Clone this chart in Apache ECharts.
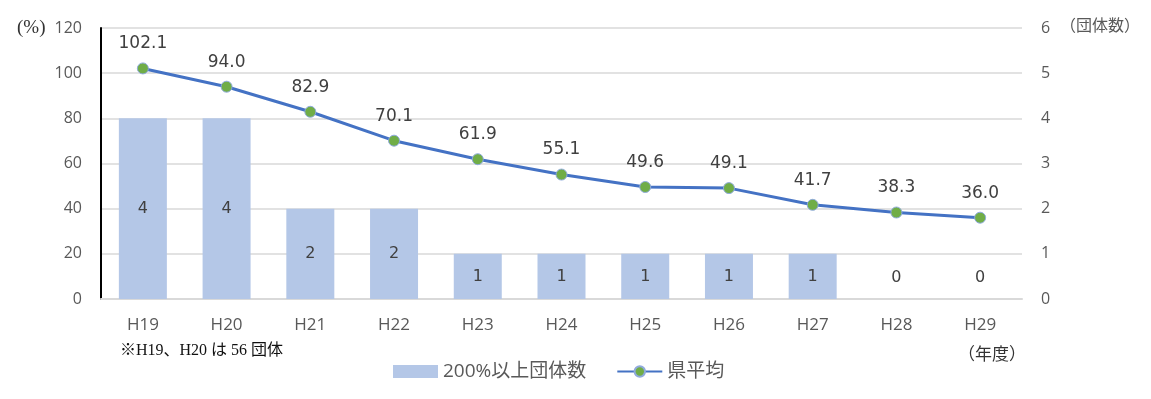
<!DOCTYPE html>
<html>
<head>
<meta charset="utf-8">
<script src="https://cdn.jsdelivr.net/npm/echarts@6/dist/echarts.min.js"></script>
<style>
  html, body { margin: 0; padding: 0; background: #fff; }
</style>
</head>
<body>
<div id="chart" style="width: 1151px; height: 399px"></div>
<script>
const categories = ["H19", "H20", "H21", "H22", "H23", "H24", "H25", "H26", "H27", "H28", "H29"];
const countOver200 = [4, 4, 2, 2, 1, 1, 1, 1, 1, 0, 0];
const prefAverage = [102.1, 94.0, 82.9, 70.1, 61.9, 55.1, 49.6, 49.1, 41.7, 38.3, 36.0];

const sans = "'Open Sans', 'Noto Sans CJK JP', sans-serif";
const labelFont = "'DejaVu Sans', sans-serif";
const serif = "'Liberation Serif', 'Noto Sans CJK JP', serif";

const chart = echarts.init(document.getElementById("chart"));

const option = {
  animation: false,
  grid: {
    left: 101,
    right: 129,
    top: 28,
    bottom: 100,
  },
  legend: {
    bottom: 13,
    left: 388,
    itemGap: 30,
    itemWidth: 45,
    itemHeight: 13,
    textStyle: {
      color: "#595959",
      fontSize: 19,
      fontFamily: sans,
    },
    data: [
      { name: "200%以上団体数", icon: "rect" },
      { name: "県平均" },
    ],
  },
  graphic: [
    {
      type: "text",
      left: 17,
      top: 19,
      style: { text: "(%)", fontSize: 19, fill: "#333", fontFamily: serif },
    },
    {
      type: "text",
      left: 1060,
      top: 18,
      style: { text: "（団体数）", fontSize: 16, fill: "#595959", fontFamily: sans },
    },
    {
      type: "text",
      left: 958,
      top: 347,
      style: { text: "（年度）", fontSize: 17, fill: "#333", fontFamily: sans },
    },
    {
      type: "text",
      left: 120,
      top: 343,
      style: { text: "※H19、H20 は 56 団体", fontSize: 16, fill: "#111", fontFamily: serif },
    },
  ],
  xAxis: {
    type: "category",
    data: categories,
    axisTick: { show: false },
    axisLine: { lineStyle: { color: "#d9d9d9", width: 2 } },
    axisLabel: {
      color: "#595959",
      fontSize: 17,
      fontFamily: sans,
      margin: 18,
    },
  },
  yAxis: [
    {
      type: "value",
      min: 0,
      max: 120,
      interval: 20,
      axisLine: { show: true, lineStyle: { color: "#000", width: 2 } },
      axisTick: { show: false },
      axisLabel: { color: "#595959", fontSize: 16, fontFamily: sans, margin: 19 },
      splitLine: { lineStyle: { color: "#d9d9d9", width: 1.5 } },
    },
    {
      type: "value",
      min: 0,
      max: 6,
      interval: 1,
      axisLine: { show: false },
      axisTick: { show: false },
      axisLabel: { color: "#595959", fontSize: 16, fontFamily: sans, margin: 19 },
      splitLine: { show: false },
    },
  ],
  series: [
    {
      name: "200%以上団体数",
      type: "bar",
      yAxisIndex: 1,
      barWidth: 48,
      itemStyle: { color: "#b4c7e7" },
      label: {
        show: true,
        position: "inside",
        color: "#404040",
        fontSize: 16,
        fontFamily: labelFont,
      },
      data: countOver200.map((v) =>
        v === 0
          ? { value: v, label: { position: "top", distance: 13 } }
          : v
      ),
    },
    {
      name: "県平均",
      type: "line",
      yAxisIndex: 0,
      symbol: "circle",
      symbolSize: 11,
      itemStyle: { color: "#70ad47", borderColor: "#8faadc", borderWidth: 1 },
      lineStyle: { color: "#4472c4", width: 3 },
      label: {
        show: true,
        position: "top",
        distance: 10,
        color: "#404040",
        fontSize: 17,
        fontFamily: labelFont,
        formatter: (p) => p.value.toFixed(1),
      },
      data: prefAverage,
    },
  ],
};

chart.setOption(option);
window.onresize = () => {
  chart.resize();
};
</script>
</body>
</html>
